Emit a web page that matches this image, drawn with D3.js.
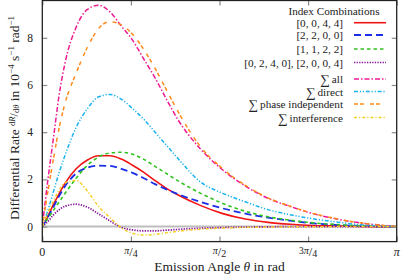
<!DOCTYPE html>
<html><head><meta charset="utf-8">
<script src="https://cdn.jsdelivr.net/npm/d3@7/dist/d3.min.js"></script>
<style>body{margin:0;background:#fff}svg{display:block}text{font-family:"Liberation Serif","DejaVu Serif",serif;fill:#222}</style>
</head><body><svg id="c" width="415" height="278"></svg>
<script>
// ---- data ----
const theta = [0, 0.05, 0.1, 0.15, 0.2, 0.3, 0.4, 0.5, 0.6, 0.7, 0.8, 0.9, 1.0, 1.1, 1.2, 1.4, 1.6, 1.8, 2.0, 2.2, 2.4, 2.6, 2.8, 3.0, 3.1416];
const red0044   = [0, 0.45, 0.95, 1.4, 1.82, 2.45, 2.82, 3.0, 3.0, 2.86, 2.6, 2.3, 1.95, 1.62, 1.35, 0.9, 0.55, 0.32, 0.18, 0.1, 0.05, 0.03, 0.01, 0, 0];
const blue2200  = [0, 0.4, 0.85, 1.3, 1.7, 2.25, 2.5, 2.58, 2.57, 2.45, 2.28, 2.05, 1.8, 1.58, 1.38, 1.05, 0.77, 0.55, 0.38, 0.25, 0.14, 0.07, 0.03, 0.01, 0];
const green1122 = [0, 0.35, 0.7, 1.05, 1.4, 2.05, 2.6, 2.95, 3.12, 3.15, 3.07, 2.85, 2.55, 2.25, 1.95, 1.42, 0.98, 0.65, 0.42, 0.27, 0.16, 0.09, 0.04, 0.01, 0];
const purpleMix = [0, 0.22, 0.5, 0.72, 0.86, 0.95, 0.82, 0.54, 0.24, -0.03, -0.14, -0.18, -0.18, -0.15, -0.12, -0.07, -0.04, -0.02, -0.01, 0, 0, 0, 0, 0, 0];
const sumAll    = [0, 2.0, 3.8, 5.6, 6.9, 8.45, 9.2, 9.38, 9.1, 8.5, 7.9, 7.1, 6.3, 5.4, 4.55, 3.3, 2.4, 1.72, 1.2, 0.85, 0.55, 0.33, 0.17, 0.06, 0];
const sumDirect = [0, 0.7, 1.5, 2.3, 3.0, 4.2, 5.0, 5.5, 5.6, 5.4, 5.0, 4.55, 4.0, 3.45, 2.9, 1.9, 1.41, 1.05, 0.72, 0.5, 0.33, 0.2, 0.09, 0.03, 0];
const sumPhase  = [0, 1.5, 2.9, 4.2, 5.2, 6.5, 7.6, 8.4, 8.68, 8.55, 8.15, 7.5, 6.7, 5.8, 4.9, 3.4, 2.45, 1.75, 1.22, 0.86, 0.56, 0.34, 0.17, 0.06, 0];
const sumInterf = [0, 0.6, 1.1, 1.55, 1.85, 1.95, 1.5, 0.85, 0.38, -0.05, -0.28, -0.36, -0.33, -0.26, -0.2, -0.11, -0.06, -0.03, -0.02, -0.01, -0.01, 0, 0, 0, 0];
const seriesNames = ["[0, 0, 4, 4]", "[2, 2, 0, 0]", "[1, 1, 2, 2]", "[0, 2, 4, 0], [2, 0, 0, 4]", "all", "direct", "phase independent", "interference"];
const yTicks = [0, 2, 4, 6, 8];
const xTickValues = [0, Math.PI / 4, Math.PI / 2, 3 * Math.PI / 4, Math.PI];
const xTickLabels = [["", "0", ""], ["", "π", "4"], ["", "π", "2"], ["3", "π", "4"], ["", "π", ""]];

// ---- styles ----
const styles = [
  {v: red0044,   color: "#f01414", dash: null,              w: 1.6},
  {v: blue2200,  color: "#1c2fe6", dash: "7,4",             w: 1.8},
  {v: green1122, color: "#2ec41e", dash: "3.5,3",           w: 1.6},
  {v: purpleMix, color: "#86139a", dash: "1.3,1.3",         w: 1.7},
  {v: sumAll,    color: "#ee1a91", dash: "5,2,1.5,2",       w: 1.5},
  {v: sumDirect, color: "#19b3ee", dash: "4,1.8,1.2,1.8,1.2,1.8", w: 1.5},
  {v: sumPhase,  color: "#ff8a1a", dash: "4,2,4,6",         w: 1.5},
  {v: sumInterf, color: "#f7cd28", dash: "3,2,1.2,2",       w: 1.5}
];
const legendY = [22.7, 35, 49, 62.5, 79, 91.5, 104, 117.5];

const svg = d3.select("#c");
const L = 42.3, R = 396.7, T = 0.5, B = 241.6;
const x = d3.scaleLinear().domain([0, Math.PI]).range([L, R]);
const y = d3.scaleLinear().domain([-0.635, 9.58]).range([B, T]);

svg.append("defs").append("clipPath").attr("id", "clip")
  .append("rect").attr("x", L).attr("y", T).attr("width", R - L).attr("height", B - T);

// zero line
svg.append("line").attr("x1", L).attr("x2", R).attr("y1", y(0)).attr("y2", y(0))
  .attr("stroke", "#bdbdbd").attr("stroke-width", 2);

// curves
const line = d3.line().x((d, i) => x(theta[i])).y(d => y(d)).curve(d3.curveMonotoneX);
const g = svg.append("g").attr("clip-path", "url(#clip)");
styles.forEach(s => {
  g.append("path").attr("d", line(s.v)).attr("fill", "none")
    .attr("stroke", s.color).attr("stroke-width", s.w)
    .attr("stroke-dasharray", s.dash);
});

// axes (inward ticks, mirrored)
const ax = svg.append("g");
ax.append("g").attr("transform", `translate(0,${B})`)
  .call(d3.axisBottom(x).tickValues(xTickValues).tickSize(-5).tickFormat(""));
ax.append("g").attr("transform", `translate(0,${T})`)
  .call(d3.axisTop(x).tickValues(xTickValues).tickSize(-5).tickFormat(""));
ax.append("g").attr("transform", `translate(${L},0)`)
  .call(d3.axisLeft(y).tickValues(yTicks).tickSize(-5).tickFormat(""));
ax.append("g").attr("transform", `translate(${R},0)`)
  .call(d3.axisRight(y).tickValues(yTicks).tickSize(-5).tickFormat(""));
ax.selectAll(".domain").remove();
ax.selectAll(".tick line").attr("stroke", "#8a8a8a").attr("stroke-width", 1.2);
svg.append("rect").attr("x", L).attr("y", T).attr("width", R - L).attr("height", B - T)
  .attr("fill", "none").attr("stroke", "#222").attr("stroke-width", 1.3);

// y tick labels
yTicks.forEach(t => {
  svg.append("text").attr("x", 33).attr("y", y(t) + 4).attr("text-anchor", "end")
    .attr("font-size", 11.5).text(t);
});
// x tick labels
xTickValues.forEach((v, i) => {
  const [pre, pi, den] = xTickLabels[i];
  const t = svg.append("text").attr("y", 256).attr("font-size", 12).attr("text-anchor", "middle")
    .attr("x", x(v));
  if (pi === "0") { t.text(pi); return; }
  if (pre) t.append("tspan").attr("font-size", 9.5).attr("dy", -2).text(pre);
  if (!den) { t.append("tspan").attr("font-style", "italic").attr("font-size", 12).text(pi); return; }
  t.append("tspan").attr("font-size", 10).attr("font-style", "italic").attr("dy", pre ? 0 : -2).text(pi);
  t.append("tspan").attr("font-size", 12.5).attr("dy", 2).text("/");
  t.append("tspan").attr("font-size", 10).attr("dy", 1).text(den);
});

// axis titles
const xt = svg.append("text").attr("x", 219.5).attr("y", 270.5).attr("text-anchor", "middle").attr("font-size", 13.5);
xt.append("tspan").text("Emission Angle ");
xt.append("tspan").attr("font-style", "italic").text("θ");
xt.append("tspan").text(" in rad");

const yt = svg.append("text").attr("transform", "translate(18.5,118) rotate(-90)")
  .attr("text-anchor", "middle").attr("font-size", 13.5);
yt.append("tspan").text("Differential Rate ");
yt.append("tspan").attr("font-size", 8.5).attr("dy", -4).text("d");
yt.append("tspan").attr("font-size", 8.5).attr("font-style", "italic").text("R");
yt.append("tspan").attr("font-size", 12).attr("dy", 3).text("/");
yt.append("tspan").attr("font-size", 8.5).attr("dy", 1).text("d");
yt.append("tspan").attr("font-size", 8.5).attr("font-style", "italic").text("θ");
yt.append("tspan").attr("dy", 0).text(" in 10");
yt.append("tspan").attr("font-size", 9).attr("dy", -5).text("−4");
yt.append("tspan").attr("dy", 5).text(" s");
yt.append("tspan").attr("font-size", 9).attr("dy", -5).text("−1");
yt.append("tspan").attr("dy", 5).text(" rad");
yt.append("tspan").attr("font-size", 9).attr("dy", -5).text("−1");

// legend
const lg = svg.append("g");
lg.append("text").attr("x", 379.5).attr("y", 14.5).attr("text-anchor", "end").attr("font-size", 11.2).text("Index Combinations");
styles.forEach((s, i) => {
  const ty = legendY[i];
  const t = lg.append("text").attr("x", 343).attr("y", ty + 4).attr("text-anchor", "end").attr("font-size", 11.2);
  if (i >= 4) {
    t.append("tspan").attr("font-size", 13.5).attr("dy", 1).text("∑");
    t.append("tspan").attr("dy", -1).text("\u2009" + seriesNames[i]);
  } else t.text(seriesNames[i]);
  lg.append("line").attr("x1", 354).attr("x2", 386).attr("y1", ty).attr("y2", ty)
    .attr("stroke", s.color).attr("stroke-width", s.w).attr("stroke-dasharray", s.dash);
});
</script></body></html>
